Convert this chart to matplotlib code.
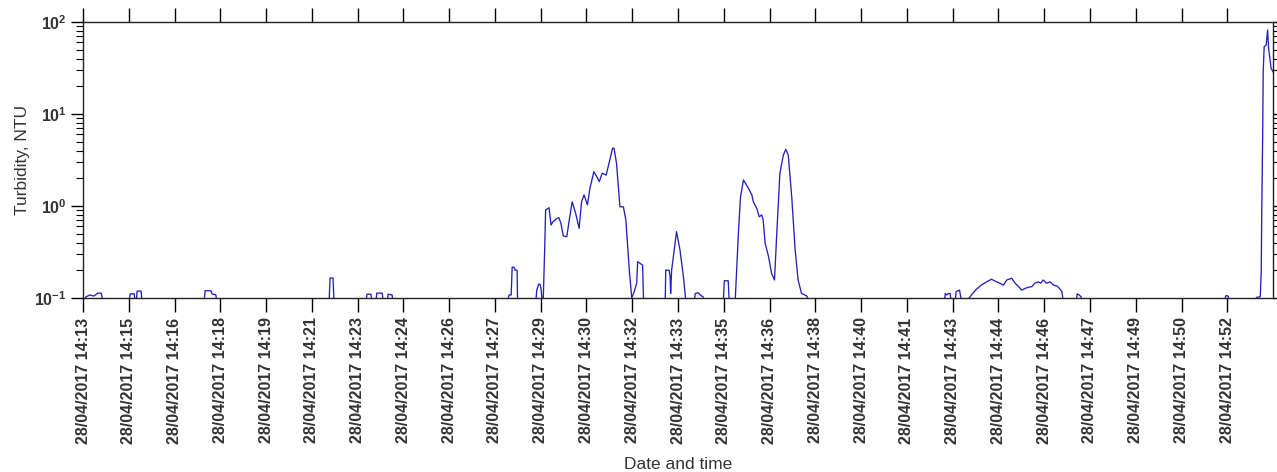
import datetime as dt
import matplotlib
matplotlib.use('Agg')
import matplotlib.pyplot as plt
import matplotlib.dates as mdates
from matplotlib.ticker import LogLocator, NullFormatter

plt.rcParams['font.family'] = ['Liberation Sans', 'DejaVu Sans']

# Record start and span of the logger window
start_time = dt.datetime(2017, 4, 28, 14, 13, 43)
span_s = 2418
tick_step_s = 93
n_ticks = 26

# Seconds since start_time and turbidity (NTU); values under 0.1 fall below the axis
elapsed_s = [
    0, 6, 14, 22, 30, 37, 41,
    93, 96, 104, 106, 108, 110, 118, 120,
    246, 248, 260, 262, 270, 272,
    500, 502, 508, 510,
    575, 577, 585, 587, 595, 597, 608, 610, 618, 620, 628, 630,
    862, 866, 870, 872, 876, 878, 882, 883,
    920, 922, 926, 929, 931, 933, 935,
    938, 940, 947, 951, 955, 963, 967, 971, 976, 983, 988, 994, 1001, 1008,
    1013, 1018, 1025, 1030, 1038, 1044, 1049, 1055, 1063, 1067, 1076, 1079,
    1084, 1091, 1098, 1103, 1110, 1115,
    1120, 1125, 1127, 1132, 1137, 1139,
    1183, 1184, 1191, 1193, 1194, 1196, 1206, 1213, 1220, 1225,
    1242, 1244, 1250, 1254, 1260, 1262,
    1301, 1303, 1311, 1313,
    1325, 1332, 1336, 1342, 1352, 1359, 1362, 1369, 1374, 1379, 1382, 1386,
    1393, 1399, 1405, 1410, 1416, 1423, 1428, 1433, 1440, 1447, 1453, 1460,
    1470, 1477,
    1750, 1752, 1755, 1758, 1762, 1764,
    1772, 1774, 1781, 1784, 1795,
    1805, 1815, 1825, 1836, 1846, 1856, 1863, 1870, 1877, 1887, 1894, 1901,
    1907, 1914, 1921, 1928, 1934, 1941, 1946, 1951, 1958, 1965, 1972, 1979,
    1984, 1989, 1992,
    2018, 2020, 2024, 2028, 2030,
    2319, 2322, 2327, 2329,
    2378, 2385, 2392, 2394, 2395, 2397, 2398, 2400, 2404, 2407, 2409, 2414, 2418,
]
turbidity = [
    0.09, 0.103, 0.108, 0.105, 0.113, 0.113, 0.09,
    0.09, 0.111, 0.111, 0.09, 0.09, 0.119, 0.119, 0.09,
    0.09, 0.12, 0.12, 0.111, 0.108, 0.09,
    0.09, 0.165, 0.165, 0.09,
    0.09, 0.11, 0.11, 0.09, 0.09, 0.113, 0.113, 0.09, 0.09, 0.11, 0.108, 0.09,
    0.09, 0.108, 0.108, 0.217, 0.215, 0.201, 0.2, 0.09,
    0.09, 0.122, 0.142, 0.14, 0.122, 0.09, 0.09,
    0.332, 0.905, 0.958, 0.622, 0.675, 0.735, 0.746, 0.649, 0.472, 0.464, 0.705, 1.11, 0.833, 0.572,
    1.11, 1.32, 1.03, 1.56, 2.36, 2.08, 1.84, 2.27, 2.17, 2.67, 4.24, 4.24,
    2.91, 0.98, 0.98, 0.705, 0.201, 0.1,
    0.117, 0.145, 0.248, 0.238, 0.228, 0.09,
    0.09, 0.201, 0.2, 0.17, 0.112, 0.2, 0.526, 0.332, 0.17, 0.09,
    0.09, 0.112, 0.114, 0.108, 0.103, 0.09,
    0.09, 0.154, 0.154, 0.09,
    0.09, 0.548, 1.26, 1.92, 1.56, 1.32, 1.11, 0.944, 0.765, 0.8, 0.705, 0.393,
    0.281, 0.186, 0.157, 0.548, 2.27, 3.58, 4.13, 3.58, 1.26, 0.332, 0.157, 0.112,
    0.106, 0.09,
    0.09, 0.112, 0.108, 0.112, 0.112, 0.09,
    0.09, 0.117, 0.122, 0.099, 0.09,
    0.108, 0.124, 0.138, 0.15, 0.16, 0.15, 0.145, 0.138, 0.157, 0.164, 0.145, 0.133,
    0.122, 0.127, 0.131, 0.133, 0.145, 0.15, 0.145, 0.157, 0.145, 0.15, 0.138, 0.135,
    0.127, 0.117, 0.09,
    0.09, 0.111, 0.108, 0.103, 0.09,
    0.09, 0.106, 0.105, 0.09,
    0.09, 0.102, 0.103, 0.193, 0.8, 6.42, 28.8, 54.0, 56.0, 81.8, 51.8, 31.4, 28.8,
]

times = [start_time + dt.timedelta(seconds=s) for s in elapsed_s]
tick_times = [start_time + dt.timedelta(seconds=k * tick_step_s) for k in range(n_ticks)]

fig = plt.figure(figsize=(12.77, 4.72), dpi=100)
ax = fig.add_axes([0.065, 0.3686, 0.9319, 0.5848])

ax.plot(times, turbidity, color='#2222b8', linewidth=0.95)

ax.set_yscale('log')
ax.set_ylim(0.1, 100)
ax.set_xlim(start_time, start_time + dt.timedelta(seconds=span_s))

ax.set_xticks(tick_times)
ax.xaxis.set_major_formatter(mdates.DateFormatter('%d/%m/%Y %H:%M'))
ax.yaxis.set_major_locator(LogLocator(base=10, numticks=10))
ax.yaxis.set_minor_locator(LogLocator(base=10, subs=range(2, 10), numticks=10))
ax.yaxis.set_minor_formatter(NullFormatter())

for lbl in ax.get_xticklabels():
    lbl.set_rotation(90)
    lbl.set_fontweight('bold')
    lbl.set_fontsize(11.5)
    lbl.set_color('#333333')
for lbl in ax.get_yticklabels():
    lbl.set_fontweight('bold')
    lbl.set_fontsize(11.5)
    lbl.set_color('#333333')

ax.tick_params(axis='x', which='major', direction='out', length=10, width=1,
               top=True, bottom=True, pad=4)
ax.tick_params(axis='y', which='major', direction='out', length=8.5, width=1,
               left=True, right=True)
ax.tick_params(axis='y', which='minor', direction='out', length=5, width=0.8,
               left=True, right=True)

for sp in ax.spines.values():
    sp.set_color('#222222')
    sp.set_linewidth(1.0)

ax.set_ylabel('Turbidity, NTU', fontsize=12.5, color='#333333', labelpad=3)
ax.set_xlabel('Date and time', fontsize=12.5, color='#333333', labelpad=10)

fig.savefig('out.png', dpi=100)
